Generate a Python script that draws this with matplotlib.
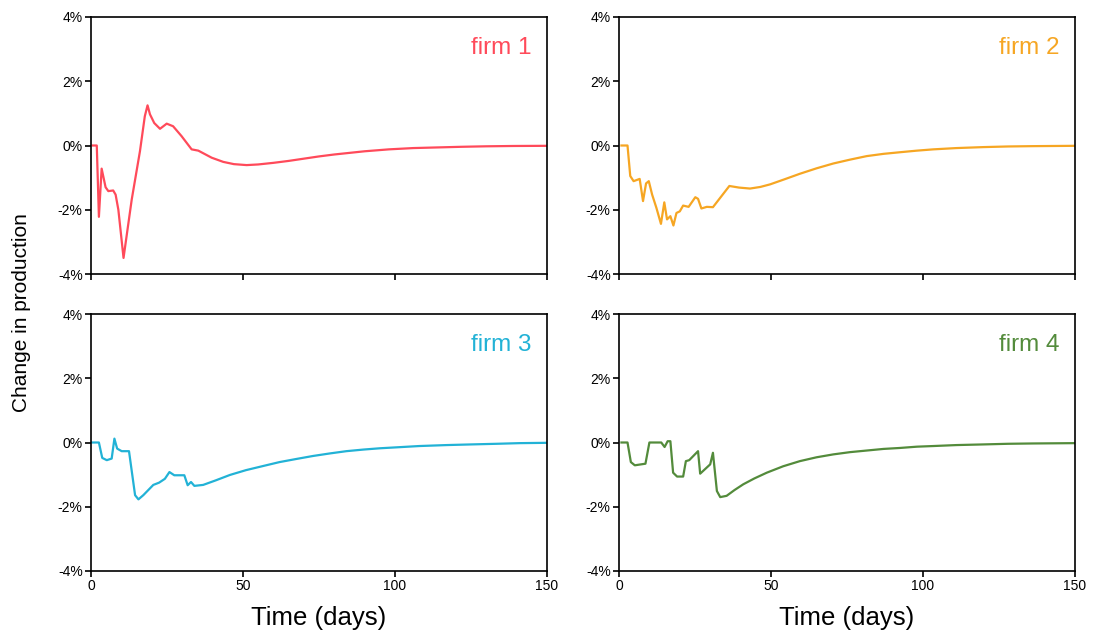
import matplotlib
matplotlib.use("Agg")
import matplotlib.pyplot as plt
from matplotlib.ticker import FuncFormatter

plt.rcParams['font.family'] = ['Liberation Sans', 'DejaVu Sans']

# days / change in production (%)
days1 = [0.5, 1.9, 2.6, 3.5, 4.8, 5.7, 7.3, 8.1, 9.0, 10.7, 13.4, 16.1, 17.7, 18.6, 19.4, 20.8,
         22.7, 24.9, 27.0, 29.8, 33.1, 35.3, 39.7, 43.5, 47, 51.2, 55, 60, 65, 70, 75, 80, 85, 90,
         98, 106, 114, 122, 130, 139, 150]
firm1 = [0, 0, -2.22, -0.72, -1.3, -1.42, -1.4, -1.53, -2.0, -3.5, -1.68, -0.18, 0.91, 1.25, 0.97, 0.7,
         0.52, 0.68, 0.6, 0.29, -0.12, -0.16, -0.38, -0.51, -0.58, -0.61, -0.59, -0.54, -0.48, -0.41,
         -0.34, -0.28, -0.23, -0.18, -0.12, -0.08, -0.06, -0.04, -0.025, -0.015, -0.01]

days2 = [0.8, 2.8, 3.7, 4.8, 6.8, 7.9, 8.9, 9.8, 10.9, 12.3, 13.8, 14.9, 15.8, 16.9, 17.9, 18.9, 20.0,
         21.1, 22.9, 25.1, 26.0, 27.1, 28.9, 30.9, 36.3, 39.5, 43.1, 46.5, 49.7, 54.5, 59.5, 65, 70.5,
         76, 81.5, 87, 92.4, 98, 103.4, 111, 119.8, 128, 136.2, 150]
firm2 = [0, 0, -0.95, -1.11, -1.04, -1.73, -1.18, -1.11, -1.53, -1.94, -2.44, -1.77, -2.3, -2.2, -2.49,
         -2.1, -2.05, -1.87, -1.91, -1.61, -1.66, -1.96, -1.91, -1.92, -1.26, -1.31, -1.34, -1.29, -1.21,
         -1.05, -0.88, -0.71, -0.56, -0.44, -0.33, -0.26, -0.21, -0.16, -0.12, -0.08, -0.05, -0.03,
         -0.02, -0.01]

days3 = [0.4, 2.6, 3.7, 5.2, 6.8, 7.7, 8.6, 10.1, 12.5, 14.5, 15.6, 17.2, 20.5, 22.4, 24.3, 25.8, 27.4,
         30.7, 31.8, 32.9, 34.0, 36.9, 41, 45.7, 51, 56.7, 62, 67.7, 73, 78.6, 84, 89.6, 95, 100.6,
         108, 117, 125, 133.5, 141, 150]
firm3 = [0, 0, -0.48, -0.55, -0.5, 0.12, -0.19, -0.27, -0.27, -1.64, -1.77, -1.64, -1.32, -1.25, -1.13,
         -0.92, -1.02, -1.02, -1.33, -1.23, -1.35, -1.32, -1.18, -1.01, -0.86, -0.73, -0.61, -0.51,
         -0.42, -0.34, -0.27, -0.22, -0.18, -0.15, -0.11, -0.08, -0.06, -0.04, -0.02, -0.01]

days4 = [0.8, 2.8, 3.9, 5.2, 8.7, 10.0, 13.9, 15.0, 16.0, 16.9, 17.8, 19.1, 21.1, 22.0, 23.1, 26.0,
         26.7, 30.0, 30.9, 32.2, 33.3, 35.4, 38, 40.9, 44.5, 48.6, 54, 59.5, 65, 70.5, 76, 81.5, 87,
         92.4, 98, 103.4, 111, 119.8, 128, 136.2, 150]
firm4 = [0, 0, -0.61, -0.71, -0.66, 0, 0, -0.14, 0.04, 0.04, -0.94, -1.06, -1.06, -0.58, -0.55, -0.27,
         -0.97, -0.68, -0.32, -1.51, -1.7, -1.66, -1.48, -1.3, -1.12, -0.94, -0.74, -0.58, -0.46, -0.37,
         -0.3, -0.25, -0.2, -0.17, -0.13, -0.11, -0.08, -0.06, -0.04, -0.03, -0.02]

labels = ['firm 1', 'firm 2', 'firm 3', 'firm 4']
colors = ['#ff4a5a', '#f6a623', '#22b2d6', '#538b3b']
series = [(days1, firm1), (days2, firm2), (days3, firm3), (days4, firm4)]

fig = plt.figure(figsize=(10.93, 6.35), dpi=100)
W, H = 1093, 635
boxes = [(91, 17), (619, 17), (91, 314), (619, 314)]

pct = FuncFormatter(lambda v, p: '%d%%' % v)
for i, (x0, y0) in enumerate(boxes):
    ax = fig.add_axes([x0 / W, 1 - (y0 + 257) / H, 456 / W, 257 / H])
    d, v = series[i]
    ax.plot(d, v, color=colors[i], lw=1.6)
    ax.set_xlim(0, 150)
    ax.set_ylim(-4, 4)
    ax.set_xticks([0, 50, 100, 150])
    ax.set_yticks([-4, -2, 0, 2, 4])
    ax.yaxis.set_major_formatter(pct)
    ax.tick_params(direction='out', length=4, width=1.2, labelsize=10, pad=2)
    for s in ax.spines.values():
        s.set_linewidth(1.2)
    if i < 2:
        ax.set_xticklabels([])
    else:
        ax.set_xlabel('Time (days)', fontsize=18.5, labelpad=9)
    ax.text(0.965, 0.88, labels[i], transform=ax.transAxes, ha='right', va='center',
            color=colors[i], fontsize=17.5)

fig.text(22 / W, 1 - 313 / H, 'Change in production', rotation=90, ha='center', va='center',
         fontsize=15)

fig.savefig('out.png', dpi=100)
